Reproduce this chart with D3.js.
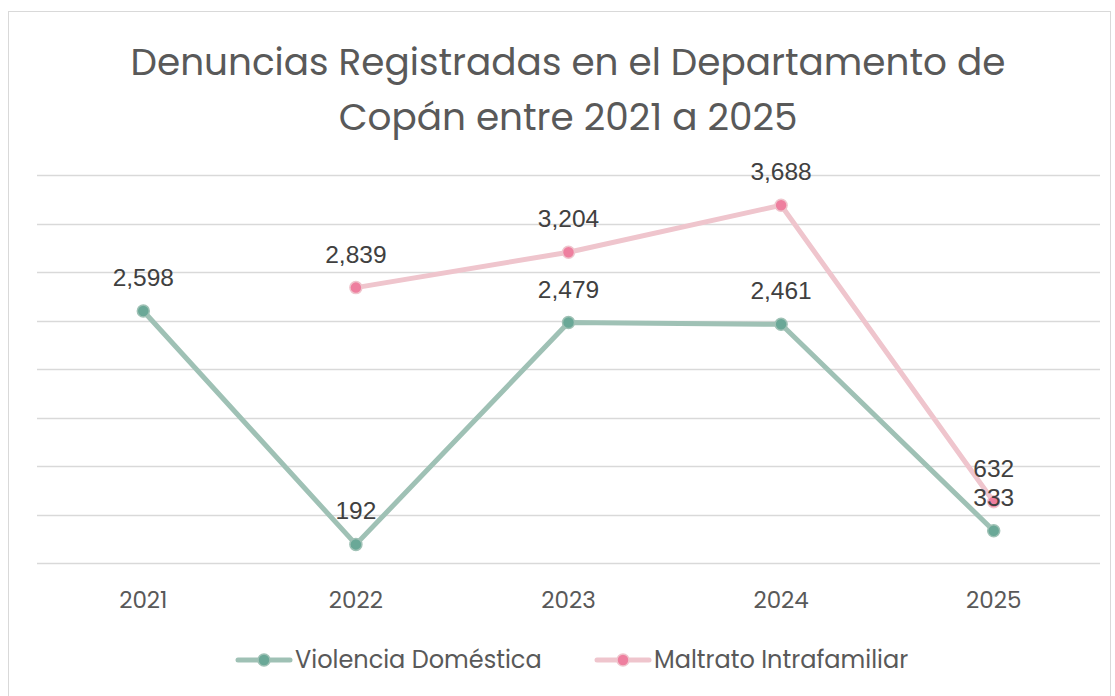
<!DOCTYPE html>
<html>
<head>
<meta charset="utf-8">
<script src="https://cdn.jsdelivr.net/npm/d3@7"></script>
<style>
  html, body { margin: 0; padding: 0; background: #fff; }
  svg { display: block; }
</style>
</head>
<body>
<div id="chart"></div>
<script>
const years = ['2021', '2022', '2023', '2024', '2025'];
const violencia = [2598, 192, 2479, 2461, 333];
const maltrato = [null, 2839, 3204, 3688, 632];
const yTicks = [0, 500, 1000, 1500, 2000, 2500, 3000, 3500, 4000];
const seriesNames = ['Violencia Doméstica', 'Maltrato Intrafamiliar'];

const width = 1115, height = 696;
const titleFont = "Poppins, 'Noto Sans', 'Open Sans', sans-serif";
const labelFont = "'Liberation Sans', Arial, sans-serif";

const svg = d3.select('#chart').append('svg')
  .attr('width', width)
  .attr('height', height);

svg.append('rect')
  .attr('x', 8.5).attr('y', 11.5)
  .attr('width', 1102).attr('height', 700)
  .attr('fill', '#fff')
  .attr('stroke', '#d9d9d9');

const x = d3.scaleBand().domain(years).range([37, 1100]);
const y = d3.scaleLinear().domain([0, 4000]).range([563, 175]);

// gridlines
svg.append('g')
  .selectAll('line')
  .data(yTicks)
  .enter()
  .append('line')
  .attr('x1', 37).attr('x2', 1100)
  .attr('y1', d => Math.round(y(d)) + 0.5)
  .attr('y2', d => Math.round(y(d)) + 0.5)
  .attr('stroke', '#d9d9d9')
  .attr('stroke-width', 1.5);

// title
const title = svg.append('text')
  .attr('text-anchor', 'middle')
  .attr('fill', '#595959')
  .attr('font-family', titleFont)
  .attr('font-size', 37.4);
title.append('tspan').attr('x', 568).attr('y', 75).text('Denuncias Registradas en el Departamento de');
title.append('tspan').attr('x', 568).attr('y', 130).text('Copán entre 2021 a 2025');

// x axis labels
const xAxis = svg.append('g')
  .attr('transform', 'translate(0,563)')
  .call(d3.axisBottom(x).tickSize(0).tickPadding(29));
xAxis.select('.domain').remove();
xAxis.selectAll('text')
  .attr('fill', '#595959')
  .attr('font-family', titleFont)
  .attr('font-size', 23);

const cx = d => x(d) + x.bandwidth() / 2;

const series = [
  { name: seriesNames[0], values: violencia, line: '#9fc1b5', dot: '#6aa897' },
  { name: seriesNames[1], values: maltrato, line: '#efc5cd', dot: '#ee7f9f' }
];

const lineGen = d3.line()
  .defined(d => d.v != null)
  .x(d => cx(d.year))
  .y(d => y(d.v));

series.forEach(s => {
  const pts = years.map((yr, i) => ({ year: yr, v: s.values[i] }));
  svg.append('path')
    .datum(pts)
    .attr('fill', 'none')
    .attr('stroke', s.line)
    .attr('stroke-width', 5)
    .attr('stroke-linejoin', 'round')
    .attr('stroke-linecap', 'round')
    .attr('d', lineGen);
  svg.append('g')
    .selectAll('circle')
    .data(pts.filter(d => d.v != null))
    .enter()
    .append('circle')
    .attr('cx', d => cx(d.year))
    .attr('cy', d => y(d.v))
    .attr('r', 6)
    .attr('fill', s.dot)
    .attr('stroke', s.line)
    .attr('stroke-width', 1.5);
});

// data labels
series.forEach(s => {
  const pts = years.map((yr, i) => ({ year: yr, v: s.values[i] }));
  svg.append('g')
    .selectAll('text')
    .data(pts.filter(d => d.v != null))
    .enter()
    .append('text')
    .attr('x', d => cx(d.year))
    .attr('y', d => y(d.v) - 25)
    .attr('text-anchor', 'middle')
    .attr('fill', '#404040')
    .attr('font-family', labelFont)
    .attr('font-size', 24.5)
    .text(d => d3.format(',')(d.v));
});

// legend
const legendItems = [
  { s: series[0], x: 238 },
  { s: series[1], x: 597 }
];
const lg = svg.append('g');
legendItems.forEach(it => {
  const ly = 660;
  lg.append('line')
    .attr('x1', it.x).attr('x2', it.x + 52)
    .attr('y1', ly).attr('y2', ly)
    .attr('stroke', it.s.line)
    .attr('stroke-width', 5)
    .attr('stroke-linecap', 'round');
  lg.append('circle')
    .attr('cx', it.x + 26).attr('cy', ly)
    .attr('r', 6)
    .attr('fill', it.s.dot)
    .attr('stroke', it.s.line)
    .attr('stroke-width', 1.5);
  lg.append('text')
    .attr('x', it.x + 57).attr('y', ly + 8)
    .attr('fill', '#595959')
    .attr('font-family', titleFont)
    .attr('font-size', 24)
    .text(it.s.name);
});
</script>
</body>
</html>
